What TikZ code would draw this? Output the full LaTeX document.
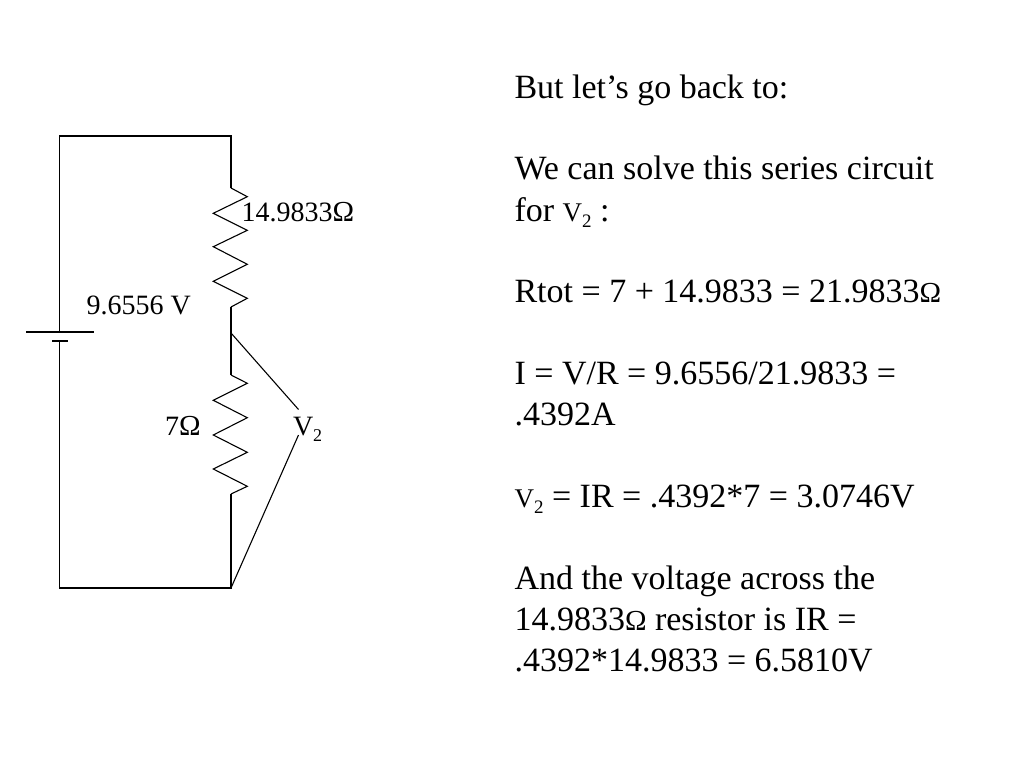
\documentclass[tikz,border=0pt]{standalone}
\usepackage{fontspec}
\setmainfont{Liberation Serif}
\newcommand{\fsz}[1]{\fontsize{#1}{#1}\selectfont}
\newcommand{\smallV}{{\fsz{27}V}\raisebox{-6pt}{\fsz{19}2}}
\newcommand{\smallO}{{\fsz{29}Ω}}
\tikzset{
  wire/.style={draw=black,line width=1.1pt,line join=miter},
  body/.style={anchor=base west,inner sep=0pt,outer sep=0pt,font=\fsz{34}},
  lab/.style={anchor=base west,inner sep=0pt,outer sep=0pt,font=\fsz{28}}
}
\begin{document}
\begin{tikzpicture}[x=1pt,y=-1pt]
\useasboundingbox (0,0) rectangle (1024,768);
% corners and junctions
\coordinate (tl) at (59.7,136);
\coordinate (tr) at (231,136);
\coordinate (r1t) at (231,188);
\coordinate (r1b) at (231,307);
\coordinate (mid) at (231,333);
\coordinate (r2t) at (231,375);
\coordinate (r2b) at (231,494);
\coordinate (br) at (231,588);
\coordinate (bl) at (59.7,588);
\coordinate (batp) at (59.7,332);
\coordinate (batn) at (59.7,341);
\coordinate (pl) at (26,332);
\coordinate (pr) at (94,332);
\coordinate (nl) at (52,341);
\coordinate (nr) at (68,341);
\coordinate (vt) at (298.5,409.5);
\coordinate (vb) at (298.5,435);
% wires
\draw[wire] (batp) -- (tl) -- (tr) -- (r1t);
\draw[wire] (r1t) -- (247.3,196.7) -- (213.3,213.3) -- (247.3,230.3) -- (213.3,246.7) -- (247.3,264.3) -- (213.3,281.3) -- (247.3,298.3) -- (r1b);
\draw[wire] (r1b) -- (mid) -- (r2t);
\draw[wire] (r2t) -- (247.3,383.3) -- (213.3,400.3) -- (247.3,417.7) -- (213.3,435) -- (247.3,452.3) -- (213.3,469) -- (247.3,486.3) -- (r2b);
\draw[wire] (r2b) -- (br) -- (bl) -- (batn);
\draw[wire] (pl) -- (pr);
\draw[wire] (nl) -- (nr);
\draw[wire] (mid) -- (vt);
\draw[wire] (vb) -- (br);
% labels
\node[lab] (lr1) at (241.5,221) {14.9833{\fsz{29}Ω}};
\node[lab] (lbat) at (86.5,314) {9.6556 V};
\node[lab] (lr2) at (165,435) {7{\fsz{29}Ω}};
\node[lab] (lv2) at (293,435) {V\raisebox{-6pt}{\fsz{18}2}};
% text column
\node[body] (t1) at (514.5,98) {But let’s go back to:};
\node[body] (t2) at (514.5,179.5) {We can solve this series circuit};
\node[body] (t3) at (514.5,221) {for \smallV{} :};
\node[body] (t4) at (514.5,302) {Rtot = 7 + 14.9833 = 21.9833\smallO};
\node[body] (t5) at (514.5,384.5) {I = V/R = 9.6556/21.9833 =};
\node[body] (t6) at (514.5,425.5) {.4392A};
\node[body] (t7) at (514.5,507) {\smallV{} = IR = .4392*7 = 3.0746V};
\node[body] (t8) at (514.5,589) {And the voltage across the};
\node[body] (t9) at (514.5,630.5) {14.9833\smallO{} resistor is IR =};
\node[body] (t10) at (514.5,671) {.4392*14.9833 = 6.5810V};
\end{tikzpicture}
\end{document}
